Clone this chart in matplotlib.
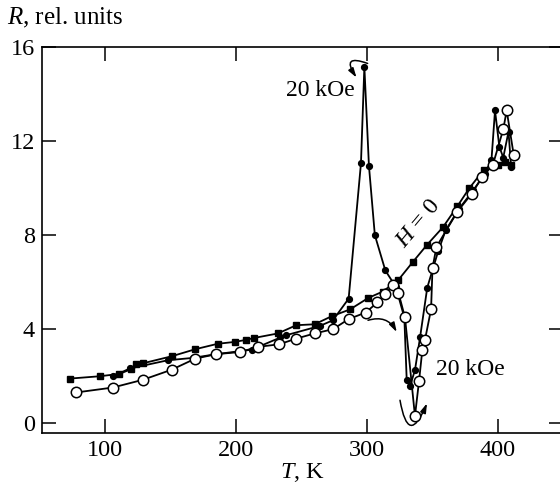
import matplotlib
matplotlib.use('Agg')
import matplotlib.pyplot as plt

plt.rcParams['font.family'] = ['Liberation Serif', 'DejaVu Serif']
plt.rcParams['mathtext.fontset'] = 'custom'
plt.rcParams['mathtext.rm'] = 'Liberation Serif'
plt.rcParams['mathtext.it'] = 'Liberation Serif:italic'

# H = 0, filled squares
t_sq = [73, 96, 111, 120, 124, 129, 151, 169, 186, 199, 208, 214, 232, 246, 260,
        273, 287, 301, 312, 324, 335, 346, 358, 369, 378, 389, 396, 400, 405, 410]
r_sq = [1.9, 2.0, 2.1, 2.3, 2.5, 2.55, 2.85, 3.15, 3.38, 3.46, 3.55, 3.63, 3.82, 4.17, 4.21,
        4.55, 4.84, 5.33, 5.6, 6.1, 6.86, 7.6, 8.34, 9.23, 9.99, 10.77, 11.0, 11.0, 11.1, 11.0]

# 20 kOe, filled circles (with peak near 300 K)
t_fc = [106, 119, 148, 167, 185, 212, 234, 238, 264, 274, 286, 295.4, 298, 301.5, 306,
        314, 322, 328.5, 330.3, 332.8, 336.6, 340.5, 346, 354.4, 360, 370, 381, 390, 395,
        397.7, 401, 404, 408, 410]
r_fc = [2.0, 2.33, 2.68, 2.78, 2.94, 3.13, 3.65, 3.74, 4.14, 4.38, 5.3, 11.05, 15.16, 10.94, 8.0,
        6.5, 5.8, 4.5, 1.86, 1.57, 2.26, 3.65, 5.77, 7.33, 8.2, 9.1, 9.9, 10.6, 11.2,
        13.3, 11.76, 11.3, 12.4, 10.9]

# 20 kOe, open circles (dip near 337 K)
t_oc = [78, 106, 129, 151, 169, 185, 203, 217, 233, 246, 260, 274, 286, 299, 308, 314,
        320, 324, 329, 336.6, 339.7, 342.2, 344.3, 348.9, 350, 353, 369, 380, 388, 396,
        404, 406.6, 412]
r_oc = [1.31, 1.52, 1.85, 2.28, 2.75, 2.94, 3.03, 3.25, 3.36, 3.6, 3.82, 4.0, 4.43, 4.71, 5.14, 5.48,
        5.9, 5.55, 4.5, 0.31, 1.79, 3.1, 3.56, 4.85, 6.6, 7.5, 9.0, 9.77, 10.48, 10.98,
        12.5, 13.3, 11.4]

fig = plt.figure(figsize=(5.6, 4.93), dpi=100)
ax = fig.add_axes([0.075, 0.1223, 0.9304, 0.7824])

ax.plot(t_sq, r_sq, '-s', color='black', lw=1.3, ms=4.2, zorder=2)
ax.plot(t_fc, r_fc, '-o', color='black', lw=1.3, ms=4.2, zorder=3)
ax.plot(t_oc, r_oc, '-o', color='black', lw=1.3, ms=7.5, mfc='white', mec='black', mew=1.1, zorder=4)

arrow = dict(arrowstyle='-|>,head_length=0.55,head_width=0.17', color='black', lw=1.1,
             shrinkA=0, shrinkB=0)
ax.annotate('', xy=(292.0, 14.7), xytext=(300.5, 15.3),
            arrowprops=dict(arrow, connectionstyle='arc3,rad=1.5'))
ax.annotate('', xy=(322.7, 3.88), xytext=(300.8, 4.38),
            arrowprops=dict(arrow, connectionstyle='arc3,rad=-0.4'))
ax.annotate('', xy=(345.8, 0.85), xytext=(325.2, 0.98),
            arrowprops=dict(arrow, connectionstyle='arc3,rad=1.7'))

ax.text(291, 14.17, '20 kOe', fontsize=17, ha='right', va='center')
ax.text(353, 2.3, '20 kOe', fontsize=17, ha='left', va='center')
ax.text(339, 8.5, '$H$ = 0', fontsize=17.5, ha='center', va='center', rotation=50)

ax.set_xlim(52, 449.6)
ax.set_ylim(-0.4, 16)
ax.set_xticks([100, 200, 300, 400])
ax.set_yticks([0, 4, 8, 12, 16])
ax.tick_params(direction='in', length=10, width=1.1, labelsize=17.5, pad=5,
               top=True, right=True)
for s in ax.spines.values():
    s.set_linewidth(1.2)

ax.set_xlabel('$T$, K', fontsize=17.5, labelpad=0)
fig.text(7 / 560, 1 - 18 / 493, '$R$, rel. units', fontsize=18, ha='left', va='center')

fig.savefig('out.png', dpi=100)
